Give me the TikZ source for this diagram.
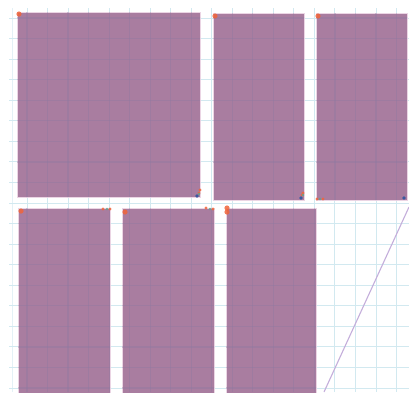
\documentclass[tikz,border=0pt]{standalone}
\definecolor{panelfill}{HTML}{A97DA0}
\definecolor{panelrim}{HTML}{EBD5E4}
\definecolor{gridline}{HTML}{D2E9F0}
\definecolor{gridshade}{HTML}{8A7AA2}
\definecolor{slopeline}{HTML}{C4AEDB}
\definecolor{markO}{HTML}{F0653A}
\definecolor{markB}{HTML}{2F55A0}
\definecolor{markT}{HTML}{5FA58F}
\tikzset{
  panel/.style={fill=panelfill,draw=panelrim,line width=0.8pt},
  gridrule/.style={gridline,line width=1pt},
  gridover/.style={gridshade,line width=1.2pt,opacity=0.35},
  dotO/.style={fill=markO,opacity=0.85},
  dotB/.style={fill=markB,opacity=0.9},
  dotT/.style={fill=markT,opacity=0.85}
}
\begin{document}
\begin{tikzpicture}[x=1pt,y=-1pt]
\useasboundingbox (0,0) rectangle (409,392);
\fill[white] (0,0) rectangle (409,392);
% grid under the panels
\foreach \i in {0,...,18}{
  \pgfmathsetmacro{\gx}{27+20.53*\i}
  \draw[gridrule] (\gx,8) -- (\gx,392);
}
\draw[gridrule,opacity=0.6] (12,8) -- (12,392);
\foreach \i in {0,...,18}{
  \pgfmathsetmacro{\gy}{18+20.56*\i}
  \draw[gridrule] (9,\gy) -- (409,\gy);
}
% panels
\draw[panel] (17,12) rectangle (200,197);
\draw[panel] (213,13) rectangle (304,200);
\draw[panel] (316,13) rectangle (407,200);
\draw[panel] (18,208) rectangle (110,393);
\draw[panel] (122,208) rectangle (214,393);
\draw[panel] (226,208) rectangle (316,393);
% grid showing through the panels
\begin{scope}
\clip (17,12) rectangle (200,197) (213,13) rectangle (304,200) (316,13) rectangle (407,200)
      (18,208) rectangle (110,392) (122,208) rectangle (214,392) (226,208) rectangle (316,392);
\foreach \i in {0,...,18}{
  \pgfmathsetmacro{\gx}{27+20.53*\i}
  \draw[gridover] (\gx,8) -- (\gx,392);
  \pgfmathsetmacro{\gy}{18+20.56*\i}
  \draw[gridover] (9,\gy) -- (409,\gy);
}
\end{scope}
% slope
\draw[slopeline,line width=1.1pt] (324,392) -- (409,207);
% corner markers
\foreach \mx/\my in {19/14,215/16,318/16,21/211,125/212,227/212,227/208}{
  \fill[dotO] (\mx,\my) circle (2.6);
}
\foreach \mx/\my in {200/190,199/193,303/193,302/195,317/199,323/199,103/209,110/209,206/208,213/209}{
  \fill[dotO] (\mx,\my) circle (1.7);
}
\foreach \mx/\my in {199/194,303/195,107/209,210/209,320/199}{
  \fill[dotT] (\mx,\my) circle (1.4);
}
\foreach \mx/\my in {197/196,301/198,404/198}{
  \fill[dotB] (\mx,\my) circle (1.9);
}
\end{tikzpicture}
\end{document}
